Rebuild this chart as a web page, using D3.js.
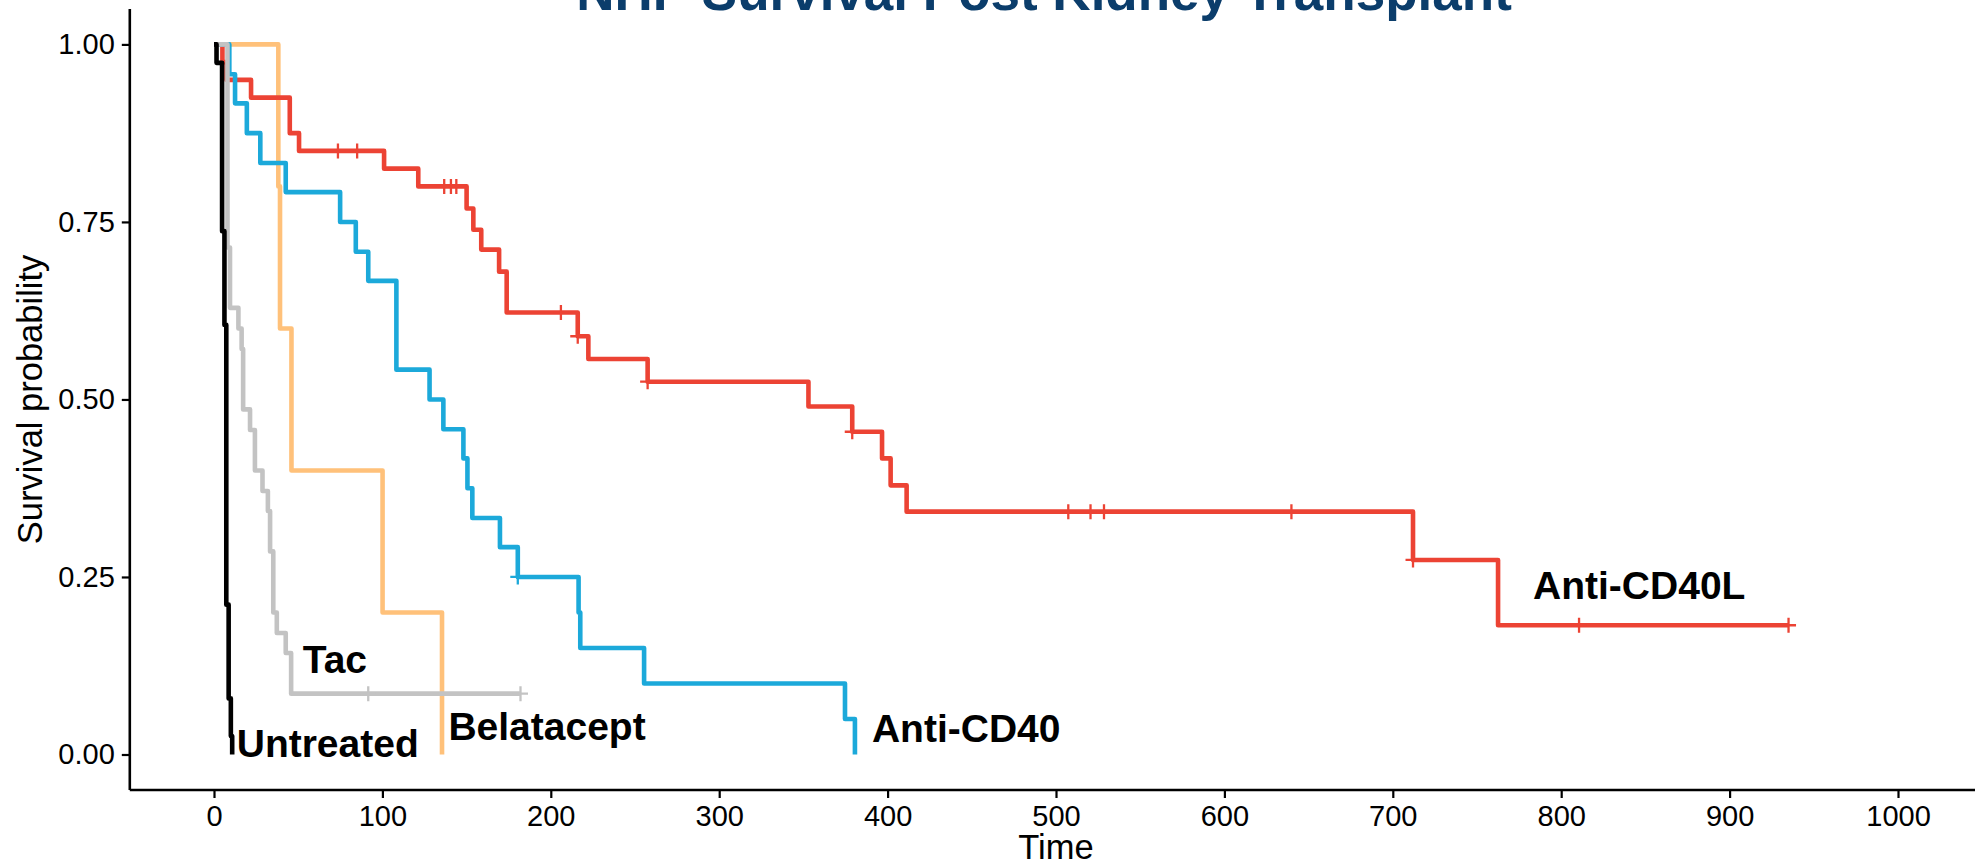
<!DOCTYPE html>
<html>
<head>
<meta charset="utf-8">
<script src="https://cdn.jsdelivr.net/npm/d3@7"></script>
<style>
  html, body { margin: 0; padding: 0; background: #ffffff; }
  svg { display: block; font-family: "Liberation Sans", Arial, Helvetica, sans-serif; }
</style>
</head>
<body>
<svg id="chart" width="1975" height="866"></svg>
<script>
// ---- Kaplan–Meier estimates (time in days, survival after each event) ----
const groups = ["Belatacept", "Anti-CD40L", "Anti-CD40", "Tac", "Untreated"];

const belataceptTime = [0, 38.2, 39.2, 46, 100.1, 135.4];
const belataceptSurv = [1, 0.8, 0.6, 0.4, 0.2, 0];
const belataceptCensor = [];

const antiCD40LTime = [0, 5, 7.5, 22, 45, 50.5, 101, 121.3, 150, 154, 158.7, 169.3, 173.8,
                       216, 222.3, 257.5, 353, 379, 396.7, 401.8, 411.3, 712, 762.5];
const antiCD40LSurv = [1, 0.975, 0.95, 0.925, 0.875, 0.85, 0.825, 0.80, 0.769, 0.739, 0.711, 0.680, 0.6225,
                       0.589, 0.557, 0.525, 0.490, 0.4545, 0.417, 0.379, 0.342, 0.274, 0.182];
const antiCD40LCensor = [73.6, 85, 136.7, 140.7, 143.9, 206, 216, 257.5, 379, 507.3, 520.5, 528.5,
                         639.8, 712, 810.6, 935];

const antiCD40Time = [0, 9.1, 12.5, 19.5, 27.5, 42.6, 74.9, 84.2, 91.6, 108.3, 128, 136.2, 148.1,
                      150.5, 153.4, 169.8, 180.4, 216.5, 217.5, 255.4, 374.7, 380.6];
const antiCD40Surv = [1, 0.958, 0.917, 0.875, 0.833, 0.792, 0.75, 0.708, 0.667, 0.542, 0.5, 0.458, 0.417,
                      0.375, 0.333, 0.292, 0.25, 0.2, 0.15, 0.1, 0.05, 0];
const antiCD40Censor = [180.4];

const tacTime = [0, 8, 9.5, 14.5, 16.4, 17.3, 21.4, 24.3, 28.8, 32, 33.3, 35.2, 37.3, 42.6, 45.8];
const tacSurv = [1, 0.714, 0.629, 0.6, 0.571, 0.486, 0.457, 0.4, 0.371, 0.343, 0.286, 0.2, 0.171, 0.143, 0.0857];
const tacCensor = [91.6, 182];

const untreatedTime = [0, 1.5, 4.8, 6.2, 7.3, 8.7, 10, 10.8];
const untreatedSurv = [1, 0.974, 0.737, 0.605, 0.211, 0.079, 0.026, 0];
const untreatedCensor = [];

// Curve labels, anchored in data units (time, survival) at the text baseline start
const labelTime = [139.2, 783.3, 390.7, 52.7, 13.5];
const labelSurv = [0.020, 0.219, 0.018, 0.115, -0.004];

const xTicks = [0, 100, 200, 300, 400, 500, 600, 700, 800, 900, 1000];
const yTicks = [0, 0.25, 0.5, 0.75, 1];

const colors = {
  "Belatacept": "#FFC17A",
  "Anti-CD40L": "#EC4334",
  "Anti-CD40": "#1CA9DA",
  "Tac": "#C3C3C3",
  "Untreated": "#000000"
};

const series = [
  { name: "Belatacept", time: belataceptTime, surv: belataceptSurv, censor: belataceptCensor },
  { name: "Anti-CD40L", time: antiCD40LTime, surv: antiCD40LSurv, censor: antiCD40LCensor },
  { name: "Anti-CD40",  time: antiCD40Time,  surv: antiCD40Surv,  censor: antiCD40Censor },
  { name: "Tac",        time: tacTime,       surv: tacSurv,       censor: tacCensor },
  { name: "Untreated",  time: untreatedTime, surv: untreatedSurv, censor: untreatedCensor }
];

// ---- layout ----
const svg = d3.select("#chart");
const x = d3.scaleLinear().domain([-50, 1050]).range([129.8, 1982.2]);
const y = d3.scaleLinear().domain([-0.05, 1.05]).range([790, 8.9]);

// survival at time t (right-continuous step function)
function survAt(s, t) {
  let v = s.surv[0];
  for (let i = 0; i < s.time.length; i++) if (s.time[i] <= t) v = s.surv[i];
  return v;
}

const line = d3.line()
  .x(d => x(d[0]))
  .y(d => y(d[1]))
  .curve(d3.curveStepAfter);

const curves = svg.append("g").attr("class", "curves");

series.forEach(s => {
  const pts = s.time.map((t, i) => [t, s.surv[i]]);
  const tEnd = Math.max(s.time[s.time.length - 1], s.censor.length ? d3.max(s.censor) : 0);
  pts.push([tEnd, s.surv[s.surv.length - 1]]);
  const g = curves.append("g");
  g.append("path")
    .attr("d", line(pts))
    .attr("fill", "none")
    .attr("stroke", colors[s.name])
    .attr("stroke-width", 4.6)
    .attr("stroke-linejoin", "round")
    .attr("stroke-linecap", "butt");
  // censoring marks
  const arm = 7.5;
  g.selectAll("path.censor")
    .data(s.censor)
    .join("path")
    .attr("class", "censor")
    .attr("d", t => {
      const cx = x(t), cy = y(survAt(s, t));
      return `M${cx - arm},${cy}H${cx + arm}M${cx},${cy - arm}V${cy + arm}`;
    })
    .attr("stroke", colors[s.name])
    .attr("stroke-width", 2.3)
    .attr("fill", "none");
});

// ---- curve labels ----
svg.append("g")
  .selectAll("text")
  .data(groups)
  .join("text")
  .attr("x", (d, i) => x(labelTime[i]))
  .attr("y", (d, i) => y(labelSurv[i]))
  .attr("font-size", 39)
  .attr("font-weight", "bold")
  .attr("fill", "#000000")
  .text(d => d);

// ---- axes ----
const xAxis = svg.append("g")
  .attr("transform", `translate(0,${y(-0.05)})`)
  .call(d3.axisBottom(x).tickValues(xTicks).tickFormat(d3.format("d")).tickSize(8).tickPadding(7));

const yAxis = svg.append("g")
  .attr("transform", `translate(${x(-50)},0)`)
  .call(d3.axisLeft(y).tickValues(yTicks).tickFormat(d3.format(".2f")).tickSize(8).tickPadding(7));

[xAxis, yAxis].forEach(a => {
  a.select(".domain").attr("stroke", "#000").attr("stroke-width", 2.6);
  a.selectAll(".tick line").attr("stroke", "#000").attr("stroke-width", 2.2);
  a.selectAll(".tick text")
    .attr("fill", "#000")
    .attr("font-size", 29)
    .attr("font-family", "Liberation Sans, Arial, sans-serif");
});
// axis lines run from the panel corner only (no outer tick stubs)
xAxis.select(".domain").attr("d", `M${x(-50)},0H${x(1050)}`);
yAxis.select(".domain").attr("d", `M0,${y(-0.05)}V${y(1.05)}`);

// ---- axis titles ----
svg.append("text")
  .attr("x", (x(-50) + x(1050)) / 2)
  .attr("y", 859)
  .attr("text-anchor", "middle")
  .attr("font-size", 34.5)
  .attr("fill", "#000")
  .text("Time");

svg.append("text")
  .attr("transform", `translate(42,${(y(-0.05) + y(1.05)) / 2}) rotate(-90)`)
  .attr("text-anchor", "middle")
  .attr("font-size", 34.5)
  .attr("fill", "#000")
  .text("Survival probability");

// ---- title ----
svg.append("text")
  .attr("x", 1044)
  .attr("y", 10)
  .attr("text-anchor", "middle")
  .attr("font-size", 53)
  .attr("font-weight", "bold")
  .attr("fill", "#0B3D6B")
  .text("NHP Survival Post Kidney Transplant");
</script>
</body>
</html>
